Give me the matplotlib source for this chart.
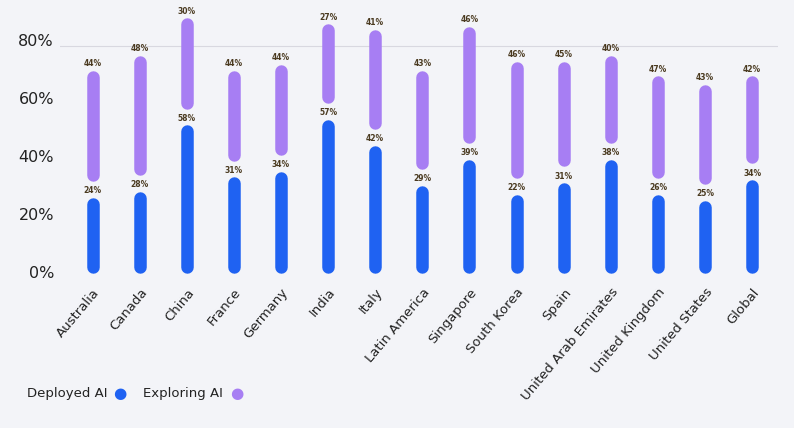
import matplotlib; matplotlib.use("Agg")
import matplotlib.pyplot as plt

countries=["Australia","Canada","China","France","Germany","India","Italy","Latin America",
           "Singapore","South Korea","Spain","United Arab Emirates","United Kingdom","United States","Global"]
deployed=[24,28,58,31,34,57,42,29,39,22,31,38,26,25,34]
exploring=[44,48,30,44,44,27,41,43,46,46,45,40,47,43,42]
# drawn bar tops (bars drawn slightly off the labelled values in the original)
dep_top=[25,27,50,32,34,52,43,29,38,26,30,38,26,24,31]
exp_top=[69,74,87,69,71,85,83,69,84,72,72,74,67,64,67]

BG="#f3f4f8"; BLUE="#1f62f2"; PURP="#a77ef3"; LAB="#4a3a20"
fig=plt.figure(figsize=(7.94,4.28),dpi=100,facecolor=BG)
ax=fig.add_axes([0.075,0.345,0.905,0.635],facecolor=BG)
x=range(len(countries))
lw=9
for i in x:
    ax.plot([i,i],[1.5,dep_top[i]-1.5],color=BLUE,lw=lw,solid_capstyle="round")
    lo=dep_top[i]+8.5
    ax.plot([i,i],[lo,exp_top[i]-1.5],color=PURP,lw=lw,solid_capstyle="round")
    ax.text(i,dep_top[i]+1.5,f"{deployed[i]}%",ha="center",va="bottom",fontsize=5.5,fontweight="bold",color=LAB)
    ax.text(i,exp_top[i]+1.5,f"{exploring[i]}%",ha="center",va="bottom",fontsize=5.5,fontweight="bold",color=LAB)
ax.axhline(78,color="#d8d8e0",lw=0.8,zorder=0)
ax.set_ylim(-3,91); ax.set_xlim(-0.7,len(countries)-0.45)
ax.set_yticks([0,20,40,60,80]); ax.set_yticklabels(["0%","20%","40%","60%","80%"],fontsize=11.5,color="#222")
ax.set_xticks(list(x)); ax.set_xticklabels(countries,rotation=50,ha="right",rotation_mode="anchor",fontsize=9.5,color="#222")
ax.tick_params(length=0,pad=4)
for s in ax.spines.values(): s.set_visible(False)
fig.text(0.034,0.08,"Deployed AI",fontsize=9.5,va="center",color="#222")
fig.text(0.143,0.08,"●",fontsize=11,va="center",color=BLUE)
fig.text(0.18,0.08,"Exploring AI",fontsize=9.5,va="center",color="#222")
fig.text(0.29,0.08,"●",fontsize=11,va="center",color=PURP)
fig.savefig("out.png",facecolor=BG)
